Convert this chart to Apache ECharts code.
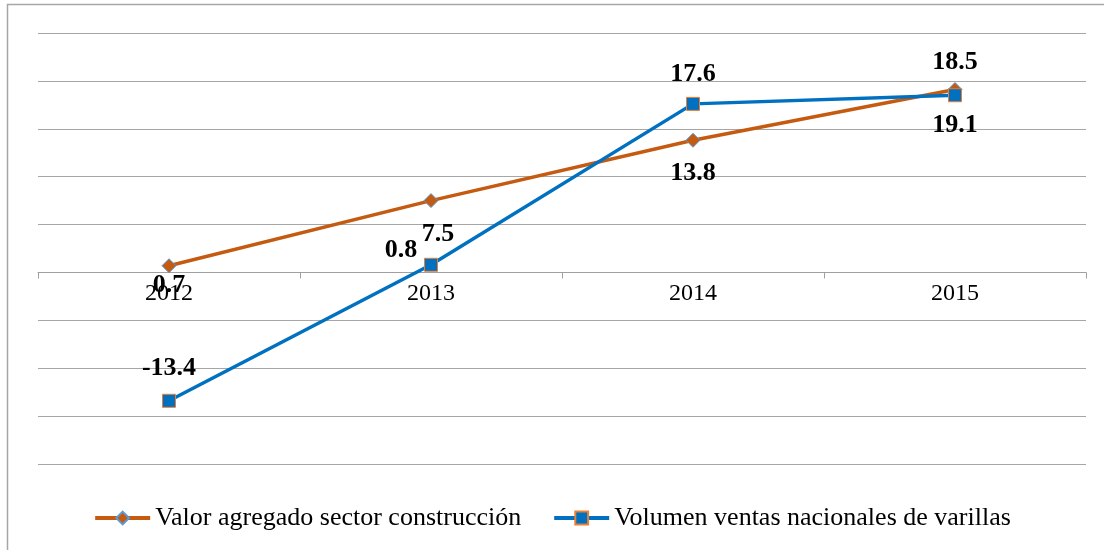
<!DOCTYPE html>
<html><head><meta charset="utf-8">
<script src="https://cdn.jsdelivr.net/npm/echarts@6/dist/echarts.min.js"></script>
<style>html,body{margin:0;padding:0;background:#fff}#c{width:1104px;height:550px}</style>
</head><body><div id="c"></div>
<script>
const categories = ['2012', '2013', '2014', '2015'];
const seriesNames = ['Valor agregado sector construcción', 'Volumen ventas nacionales de varillas'];
const valorAgregado = [0.7, 7.5, 13.8, 19.1];
const volumenVentas = [-13.4, 0.8, 17.6, 18.5];
const yMin = -20, yMax = 25, yStep = 5;

const ORANGE = '#C55A11', BLUE = '#0070C0';
const labelFont = {color: '#000', fontWeight: 'bold', fontFamily: 'Liberation Serif', fontSize: 26};

const orangeOffsets = [[0, -14], [7, 0], [0, 0], [0, 2]];
const blueOffsets = [[0, 0], [-30, 18], [0, 3], [0, 0]];

const gridTop = 33, gridBottom = 86, chartH = 550;
const plotH = chartH - gridTop - gridBottom;
const zeroShift = plotH * (0 - yMin) / (yMax - yMin);

const chart = echarts.init(document.getElementById('c'), null, {renderer: 'canvas'});
chart.setOption({
  animation: false,
  backgroundColor: '#fff',
  graphic: [{type: 'rect', shape: {x: 7.5, y: 4.5, width: 1200, height: 700}, style: {fill: 'none', stroke: '#a6a6a6', lineWidth: 1.5}, silent: true, z: -1}],
  grid: {left: 38, right: 18, top: gridTop, bottom: gridBottom},
  legend: {
    bottom: 14, left: 'center', itemGap: 31, itemWidth: 55, itemHeight: 16,
    lineStyle: {width: 4},
    textStyle: {color: '#000', fontFamily: 'Liberation Serif', fontSize: 26},
    data: seriesNames
  },
  xAxis: {
    type: 'category', data: categories, boundaryGap: true, position: 'bottom',
    offset: -zeroShift,
    axisLine: {onZero: false, lineStyle: {color: '#a0a0a0', width: 1}},
    axisTick: {show: true, inside: false, length: 6, lineStyle: {color: '#a0a0a0'}},
    axisLabel: {color: '#000', fontFamily: 'Liberation Serif', fontSize: 24, margin: 9}
  },
  yAxis: {
    type: 'value', min: yMin, max: yMax, interval: yStep,
    axisLabel: {show: false}, axisLine: {show: false}, axisTick: {show: false},
    splitLine: {lineStyle: {color: '#a6a6a6', width: 1.2}}
  },
  series: [
    {
      name: seriesNames[0], type: 'line', data: valorAgregado.map((v, i) => ({value: v, label: {offset: orangeOffsets[i]}})),
      symbol: 'diamond', symbolSize: 14,
      lineStyle: {color: ORANGE, width: 3.5},
      itemStyle: {color: ORANGE, borderColor: '#5B9BD5', borderWidth: 1},
      label: Object.assign({show: true, position: 'bottom', distance: 13, formatter: p => p.value.toFixed(1)}, labelFont),
      z: 2
    },
    {
      name: seriesNames[1], type: 'line', data: volumenVentas.map((v, i) => ({value: v, label: {offset: blueOffsets[i]}})),
      symbol: 'rect', symbolSize: 13,
      lineStyle: {color: BLUE, width: 3.5},
      itemStyle: {color: BLUE, borderColor: '#ED7D31', borderWidth: 1},
      label: Object.assign({show: true, position: 'top', distance: 13, formatter: p => p.value.toFixed(1)}, labelFont),
      z: 3
    }
  ]
});
</script></body></html>
